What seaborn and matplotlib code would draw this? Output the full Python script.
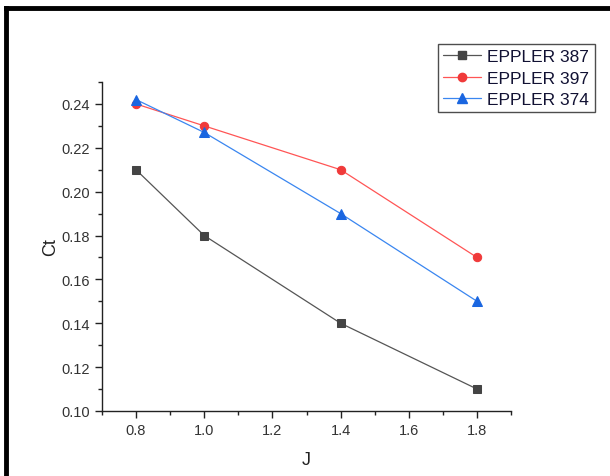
import matplotlib
matplotlib.use("Agg")
import matplotlib.pyplot as plt
import seaborn as sns
import pandas as pd
from matplotlib.ticker import MultipleLocator
from matplotlib.lines import Line2D

J = [0.8, 1.0, 1.4, 1.8]
ct_387 = [0.21, 0.18, 0.14, 0.11]
ct_397 = [0.24, 0.23, 0.21, 0.17]
ct_374 = [0.242, 0.227, 0.19, 0.15]
names = ["EPPLER 387", "EPPLER 397", "EPPLER 374"]

sns.set_style("ticks")
plt.rcParams['font.family'] = ['Liberation Sans', 'DejaVu Sans']

fig = plt.figure(figsize=(6.1, 4.77), dpi=100)
ax = fig.add_axes([0.167, 0.1363, 0.671, 0.6897])

styles = [
    dict(line="#555555", mk="#444444", marker="s", ms=6),
    dict(line="#ff5555", mk="#f03a3a", marker="o", ms=6),
    dict(line="#3a86f0", mk="#1a66e0", marker="^", ms=7),
]
for vals, name, st in zip([ct_387, ct_397, ct_374], names, styles):
    df = pd.DataFrame({"J": J, "Ct": vals})
    sns.lineplot(data=df, x="J", y="Ct", ax=ax, color=st["line"], lw=0.9,
                 marker=st["marker"], markersize=st["ms"], markerfacecolor=st["mk"],
                 markeredgecolor=st["mk"], label=name, legend=False)

ax.set_xlim(0.7, 1.9)
ax.set_ylim(0.10, 0.25)
ax.xaxis.set_minor_locator(MultipleLocator(0.1))
ax.yaxis.set_minor_locator(MultipleLocator(0.01))
ax.set_yticks([0.10, 0.12, 0.14, 0.16, 0.18, 0.20, 0.22, 0.24])
ax.set_yticklabels(["0.10", "0.12", "0.14", "0.16", "0.18", "0.20", "0.22", "0.24"])
ax.set_xticks([0.8, 1.0, 1.2, 1.4, 1.6, 1.8])
ax.set_xticklabels(["0.8", "1.0", "1.2", "1.4", "1.6", "1.8"])
sns.despine(ax=ax)
for s in ["left", "bottom"]:
    ax.spines[s].set_color("#222222")
    ax.spines[s].set_linewidth(1.0)
ax.tick_params(which="major", direction="out", length=5, width=1, colors="#222222",
               labelsize=10.5, labelcolor="#333333")
ax.tick_params(which="minor", direction="out", length=3, width=1, colors="#222222")
ax.set_xlabel("J", fontsize=13, color="#222222", labelpad=10)
ax.set_ylabel("Ct", fontsize=13, color="#222222", labelpad=2)

handles = [Line2D([], [], color=st["line"], lw=0.9, marker=st["marker"], markersize=st["ms"],
                  markerfacecolor=st["mk"], markeredgecolor=st["mk"]) for st in styles]
leg = fig.legend(handles, names, loc="upper left", bbox_to_anchor=(438/610, 1 - 45/477),
                 frameon=True, fancybox=False, edgecolor="#222222", fontsize=12.5,
                 handlelength=2.2, borderpad=0.3, labelspacing=0.35, handletextpad=0.35,
                 borderaxespad=0)
leg.get_frame().set_linewidth(1.0)
for t in leg.get_texts():
    t.set_color("#111133")

# screenshot border (top and left)
fig.add_artist(Line2D([6/610, 1.0], [1 - 9/477, 1 - 9/477], color="black", lw=3.5,
                      transform=fig.transFigure, solid_capstyle="projecting"))
fig.add_artist(Line2D([6/610, 6/610], [0.0, 1 - 9/477], color="black", lw=3.5,
                      transform=fig.transFigure, solid_capstyle="projecting"))

fig.savefig("out.png", dpi=100, facecolor="white")
